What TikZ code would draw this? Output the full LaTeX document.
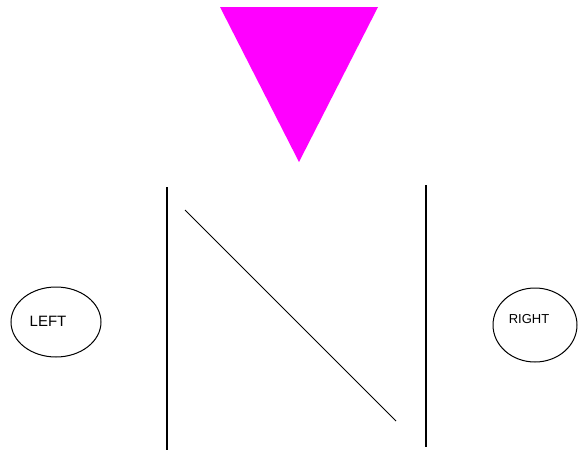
\documentclass[tikz,border=0pt]{standalone}
\usepackage{fontspec}
\setmainfont{Liberation Sans}
\definecolor{pointer}{RGB}{255,0,255}
\begin{document}
\begin{tikzpicture}[x=1pt, y=-1pt,
		bar/.style={line width=1.3pt},
		ring/.style={line width=1pt},
		label/.style={inner sep=0pt}]
		\useasboundingbox (0,0) rectangle (578,450);
		% pointer on top
		\fill[pointer] (220,7) -- (378,7) -- (299,162) -- cycle;
		% the two bars and the slash
		\coordinate (lefttop) at (167,187);
		\coordinate (leftbot) at (167,450);
		\coordinate (righttop) at (426,185);
		\coordinate (rightbot) at (426,447);
		\coordinate (slashtop) at (185,210);
		\coordinate (slashbot) at (396,421);
		\draw[bar] (lefttop) -- (leftbot);
		\draw[bar] (righttop) -- (rightbot);
		\draw[line width=1pt] (slashtop) -- (slashbot);
		% side ellipses
		\draw[ring] (56,322) ellipse (45 and 35);
		\node[label, font=\fontsize{15}{15}\selectfont] (lefttext) at (48,321) {LEFT};
		\draw[ring] (535,325) ellipse (42 and 37);
		\node[label, font=\fontsize{13}{13}\selectfont] (righttext) at (529,319) {RIGHT};
\end{tikzpicture}
\end{document}
